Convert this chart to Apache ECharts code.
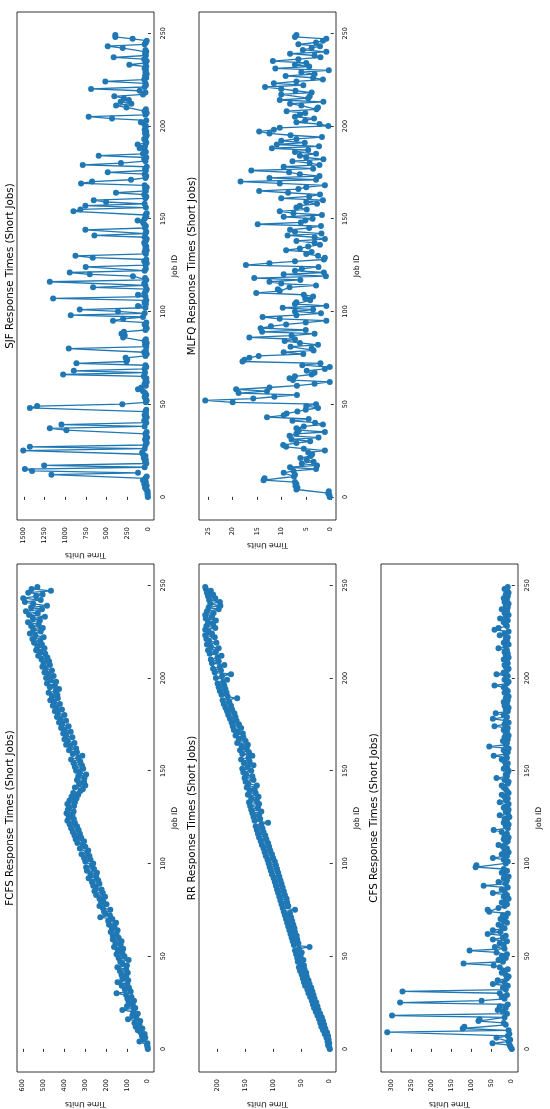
<!DOCTYPE html>
<html>
<head>
<meta charset="utf-8">
<script src="https://cdn.jsdelivr.net/npm/echarts@6/dist/echarts.min.js"></script>
<style>
html,body{margin:0;padding:0;background:#fff;}
#chart{width:550px;height:1109px;}
</style>
</head>
<body>
<div id="chart"></div>
<script>
// Job IDs of the short jobs (x axis of every panel)
const jobIds = Array.from({length: 250}, (_, i) => i);

// Response times, one value per job ID
const fcfsTimes = [
  0, 1, 3, 2, 40, 22, 12, 28, 15, 35,
  48, 26, 58, 40, 64, 36, 95, 55, 74, 48,
  70, 122, 60, 100, 72, 92, 66, 98, 78, 104,
  150, 82, 110, 90, 125, 98, 145, 94, 122, 104,
  126, 96, 134, 104, 146, 100, 122, 132, 92, 140,
  112, 150, 122, 144, 118, 162, 130, 155, 126, 168,
  140, 168, 150, 178, 145, 172, 160, 186, 152, 190,
  170, 228, 182, 204, 210, 180, 216, 232, 198, 224,
  214, 232, 205, 248, 216, 256, 222, 250, 262, 232,
  268, 238, 284, 248, 275, 244, 292, 258, 296, 268,
  262, 300, 275, 306, 280, 318, 290, 286, 326, 300,
  312, 338, 306, 346, 320, 352, 326, 360, 332, 368,
  340, 375, 350, 386, 355, 380, 362, 390, 356, 384,
  378, 354, 386, 350, 376, 342, 366, 334, 358, 324,
  312, 350, 300, 330, 306, 340, 304, 334, 296, 326,
  344, 310, 350, 316, 356, 324, 368, 334, 314, 360,
  340, 378, 344, 372, 392, 352, 384, 400, 362, 392,
  406, 370, 398, 416, 380, 412, 426, 392, 418, 436,
  400, 432, 446, 412, 438, 456, 422, 450, 468, 432,
  460, 434, 476, 442, 426, 470, 446, 484, 440, 466,
  488, 452, 476, 496, 460, 490, 506, 470, 500, 474,
  510, 482, 526, 492, 516, 536, 496, 530, 508, 546,
  516, 554, 500, 540, 566, 514, 550, 504, 560, 524,
  575, 518, 552, 494, 570, 528, 585, 508, 560, 484,
  550, 590, 514, 598, 536, 505, 574, 465, 558, 530
];

const sjfTimes = [
  2, 3, 5, 4, 20, 35, 15, 45, 25, 60,
  30, 15, 1166, 120, 1400, 1487, 40, 1254, 20, 35,
  25, 50, 30, 60, 70, 1507, 40, 1427, 30, 15,
  20, 35, 10, 25, 30, 15, 985, 1186, 40, 1045,
  20, 45, 30, 15, 40, 25, 30, 20, 1427, 1339,
  310, 25, 15, 30, 40, 20, 35, 60, 120, 80,
  25, 40, 15, 30, 20, 50, 1025, 35, 896, 40,
  20, 30, 864, 260, 250, 270, 30, 15, 45, 25,
  957, 20, 35, 15, 40, 25, 300, 280, 320, 290,
  30, 15, 25, 40, 20, 422, 300, 60, 933, 40,
  362, 824, 30, 120, 25, 40, 20, 1146, 30, 120,
  40, 25, 15, 663, 30, 45, 1186, 20, 35, 181,
  703, 945, 40, 25, 752, 30, 15, 45, 20, 667,
  876, 25, 40, 15, 30, 20, 35, 45, 25, 15,
  40, 647, 30, 20, 756, 35, 25, 45, 60, 125,
  40, 20, 30, 15, 900, 816, 25, 756, 40, 506,
  655, 30, 20, 45, 386, 25, 35, 15, 40, 808,
  675, 205, 30, 20, 40, 486, 25, 35, 15, 788,
  326, 30, 45, 20, 595, 60, 25, 40, 100, 35,
  125, 20, 30, 45, 25, 15, 35, 20, 40, 30,
  25, 45, 85, 20, 434, 716, 30, 15, 40, 25,
  260, 385, 200, 330, 230, 290, 406, 60, 30, 100,
  687, 40, 25, 30, 515, 45, 20, 35, 15, 30,
  25, 40, 20, 225, 30, 15, 45, 414, 25, 35,
  20, 30, 305, 486, 40, 25, 15, 185, 394, 394
];

const rrTimes = [
  0, 1, 3, 1, 4, 2, 6, 3, 9, 5,
  12, 8, 15, 10, 17, 12, 19, 14, 22, 17,
  25, 20, 28, 22, 30, 24, 32, 27, 35, 29,
  38, 31, 40, 33, 44, 36, 46, 38, 48, 41,
  50, 42, 53, 45, 55, 46, 52, 57, 47, 58,
  52, 60, 50, 62, 55, 36, 64, 56, 66, 58,
  68, 59, 70, 62, 72, 63, 74, 65, 76, 67,
  78, 69, 80, 71, 82, 62, 84, 74, 86, 76,
  88, 77, 90, 80, 92, 82, 94, 84, 96, 86,
  98, 88, 100, 90, 103, 92, 105, 94, 107, 96,
  109, 98, 111, 101, 114, 103, 116, 106, 118, 108,
  121, 110, 123, 113, 126, 115, 128, 118, 130, 120,
  132, 122, 110, 134, 124, 136, 126, 138, 122, 140,
  128, 142, 126, 144, 130, 140, 127, 146, 132, 143,
  134, 148, 130, 145, 150, 136, 152, 138, 149, 154,
  140, 156, 146, 136, 153, 143, 158, 145, 138, 156,
  144, 160, 148, 157, 146, 165, 150, 162, 154, 168,
  155, 164, 171, 158, 173, 162, 175, 166, 178, 168,
  181, 170, 183, 174, 186, 176, 189, 179, 191, 165,
  182, 193, 184, 196, 186, 198, 188, 200, 190, 183,
  203, 192, 176, 205, 194, 208, 196, 188, 210, 198,
  212, 200, 193, 214, 203, 217, 198, 212, 219, 202,
  215, 220, 205, 222, 210, 216, 222, 204, 220, 208,
  217, 203, 221, 210, 222, 207, 219, 198, 216, 195,
  213, 196, 215, 204, 217, 208, 219, 212, 221, 222
];

const mlfqTimes = [
  0.2, 0.3, 0.5, 0.4, 7.0, 6.8, 7.2, 7.0, 7.3, 13.7,
  13.5, 7.5, 7.3, 9.6, 7.6, 3.0, 8.3, 2.8, 5.9, 3.5,
  4.9, 6.2, 4.1, 3.8, 4.6, 1.2, 5.5, 9.1, 9.7, 7.0,
  4.2, 8.0, 2.5, 8.4, 7.0, 1.2, 6.5, 7.0, 5.5, 1.6,
  3.2, 7.8, 4.5, 13.0, 9.6, 9.0, 6.8, 5.1, 2.6, 5.0,
  3.0, 20.0, 25.6, 15.8, 11.5, 6.9, 18.8, 13.0, 19.3, 12.5,
  6.9, 3.3, 0.2, 7.7, 8.4, 7.3, 3.9, 3.3, 4.9, 1.2,
  0.2, 5.8, 2.1, 18.0, 17.6, 16.6, 14.7, 5.6, 9.6, 3.5,
  3.9, 8.2, 2.6, 6.3, 9.4, 7.3, 16.6, 8.0, 3.3, 14.0,
  5.1, 14.3, 12.2, 9.1, 5.1, 0.9, 10.4, 13.9, 7.0, 2.0,
  7.3, 3.6, 9.8, 0.9, 7.3, 7.0, 4.2, 5.2, 3.6, 5.5,
  15.2, 10.4, 10.8, 8.4, 3.0, 10.1, 12.5, 6.2, 15.6, 1.0,
  9.6, 1.4, 7.3, 5.9, 2.5, 17.3, 12.5, 7.3, 1.4, 1.2,
  2.6, 5.0, 3.9, 9.1, 6.3, 4.6, 2.2, 3.3, 7.0, 1.2,
  3.3, 8.8, 1.9, 7.3, 8.3, 4.4, 2.0, 14.9, 6.1, 5.2,
  3.7, 9.6, 1.8, 7.6, 10.4, 4.9, 7.0, 6.3, 2.8, 5.0,
  1.6, 10.1, 4.4, 2.2, 8.7, 14.6, 6.6, 5.0, 1.2, 10.4,
  18.4, 3.0, 12.5, 2.3, 6.3, 8.5, 16.2, 3.6, 9.6, 2.3,
  4.3, 7.8, 1.5, 5.0, 6.3, 3.0, 7.3, 4.6, 12.0, 2.4,
  11.0, 5.3, 10.1, 7.0, 1.8, 8.2, 12.5, 14.6, 11.6, 10.4,
  0.5, 2.3, 7.0, 5.2, 3.4, 7.3, 6.3, 5.2, 9.0, 2.9,
  2.6, 6.0, 8.3, 1.5, 10.4, 4.6, 4.3, 10.1, 3.9, 7.2,
  10.1, 13.4, 5.6, 11.6, 7.0, 1.6, 3.6, 9.2, 3.3, 6.0,
  0.4, 11.3, 4.4, 7.3, 5.0, 11.8, 6.6, 2.1, 3.3, 8.3,
  0.9, 5.7, 3.9, 2.2, 6.6, 3.0, 1.6, 0.9, 7.3, 7.0
];

const cfsTimes = [
  0, 3, 5, 48, 8, 4, 38, 10, 6, 310,
  8, 122, 118, 15, 20, 83, 80, 18, 298, 12,
  22, 35, 15, 30, 10, 278, 75, 18, 25, 12,
  30, 272, 15, 22, 10, 47, 18, 35, 12, 8,
  15, 25, 20, 10, 30, 45, 120, 22, 33, 15,
  25, 12, 38, 105, 18, 42, 20, 30, 12, 47,
  22, 15, 60, 28, 47, 18, 25, 33, 12, 20,
  28, 15, 22, 10, 56, 60, 33, 18, 12, 25,
  15, 8, 20, 12, 47, 18, 25, 10, 70, 15,
  33, 12, 20, 8, 18, 25, 12, 20, 90, 88,
  15, 10, 20, 47, 12, 25, 8, 18, 12, 22,
  33, 15, 10, 20, 8, 18, 12, 25, 45, 10,
  15, 8, 20, 12, 18, 6, 30, 10, 15, 8,
  20, 12, 8, 30, 15, 10, 18, 25, 8, 12,
  15, 20, 25, 10, 8, 18, 38, 12, 15, 10,
  8, 20, 12, 15, 10, 18, 25, 12, 45, 15,
  10, 20, 8, 56, 15, 12, 22, 10, 18, 8,
  15, 12, 20, 10, 43, 18, 8, 15, 47, 12,
  20, 40, 10, 15, 8, 18, 12, 20, 10, 15,
  8, 12, 18, 10, 15, 20, 43, 12, 8, 18,
  15, 10, 38, 20, 12, 8, 15, 18, 10, 12,
  20, 8, 15, 10, 18, 12, 33, 15, 8, 20,
  12, 15, 10, 30, 18, 8, 43, 33, 12, 15,
  20, 10, 29, 15, 8, 18, 12, 25, 10, 15,
  8, 18, 12, 20, 10, 15, 8, 12, 18, 10
];

// Tick labels
const fcfsTicks = [0, 100, 200, 300, 400, 500, 600];
const sjfTicks = [0, 250, 500, 750, 1000, 1250, 1500];
const rrTicks = [0, 50, 100, 150, 200];
const mlfqTicks = [0, 5, 10, 15, 20, 25];
const cfsTicks = [0, 50, 100, 150, 200, 250, 300];
const jobTicks = [0, 50, 100, 150, 200, 250];

const titles = [
  'FCFS Response Times (Short Jobs)',
  'SJF Response Times (Short Jobs)',
  'RR Response Times (Short Jobs)',
  'MLFQ Response Times (Short Jobs)',
  'CFS Response Times (Short Jobs)'
];
const timeLabel = 'Time Units';
const jobLabel = 'Job ID';

// Layout (the reference figure is rotated 90 degrees)
const FONT = 'DejaVu Sans';
const BLUE = '#1f77b4';
const W = 137, H = 508;
const panels = [
  {title: titles[0], values: fcfsTimes, ticks: fcfsTicks, left: 17,  top: 564, nameGap: 28},
  {title: titles[1], values: sjfTimes,  ticks: sjfTicks,  left: 17,  top: 12,  nameGap: 31},
  {title: titles[2], values: rrTimes,   ticks: rrTicks,   left: 199, top: 564, nameGap: 28},
  {title: titles[3], values: mlfqTimes, ticks: mlfqTicks, left: 199, top: 12,  nameGap: 21},
  {title: titles[4], values: cfsTimes,  ticks: cfsTicks,  left: 381, top: 564, nameGap: 28}
];

function margins(arr) {
  const lo = Math.min(...arr), hi = Math.max(...arr);
  const pad = (hi - lo) * 0.05;
  return [lo - pad, hi + pad];
}
const jobRange = margins(jobIds);

const grid = [], xAxis = [], yAxis = [], series = [], graphic = [];
panels.forEach((p, i) => {
  grid.push({
    left: p.left, top: p.top, width: W, height: H,
    show: true, borderColor: '#000', borderWidth: 0.8, backgroundColor: 'transparent',
    containLabel: false, outerBoundsMode: 'none'
  });
  const r = margins(p.values);
  xAxis.push({
    gridIndex: i, type: 'value', inverse: true, position: 'bottom',
    min: r[0], max: r[1],
    axisLine: {show: false},
    splitLine: {show: false},
    axisTick: {show: true, inside: false, length: 3, lineStyle: {color: '#000', width: 0.8}, customValues: p.ticks},
    axisLabel: {rotate: 90, margin: 7, fontSize: 6.5, color: '#000', fontFamily: FONT, customValues: p.ticks,
                formatter: v => String(v)},
    name: timeLabel, nameLocation: 'middle', nameRotate: 180, nameGap: p.nameGap,
    nameTextStyle: {fontSize: 7.7, color: '#000', fontFamily: FONT}
  });
  yAxis.push({
    gridIndex: i, type: 'value', position: 'right',
    min: jobRange[0], max: jobRange[1],
    axisLine: {show: false},
    splitLine: {show: false},
    axisTick: {show: true, inside: false, length: 3, lineStyle: {color: '#000', width: 0.8}, customValues: jobTicks},
    axisLabel: {rotate: 90, margin: 6, fontSize: 6.5, color: '#000', fontFamily: FONT, customValues: jobTicks,
                formatter: v => String(v)},
    name: jobLabel, nameLocation: 'middle', nameRotate: 90, nameGap: 17,
    nameTextStyle: {fontSize: 7.7, color: '#000', fontFamily: FONT}
  });
  series.push({
    type: 'line', xAxisIndex: i, yAxisIndex: i,
    data: jobIds.map((id, k) => [p.values[k], id]),
    symbol: 'circle', symbolSize: 6, showSymbol: true,
    lineStyle: {color: BLUE, width: 1.3},
    itemStyle: {color: BLUE, borderWidth: 0},
    emphasis: {disabled: true},
    animation: false
  });
  graphic.push({
    type: 'text', x: p.left - 7, y: p.top + H / 2, rotation: Math.PI / 2,
    style: {text: p.title, align: 'center', verticalAlign: 'middle', fontSize: 10.3,
            fill: '#000', fontFamily: FONT}
  });
});

const chart = echarts.init(document.getElementById('chart'), null, {renderer: 'canvas'});
chart.setOption({
  backgroundColor: '#fff',
  animation: false,
  grid, xAxis, yAxis, series, graphic
});
</script>
</body>
</html>
